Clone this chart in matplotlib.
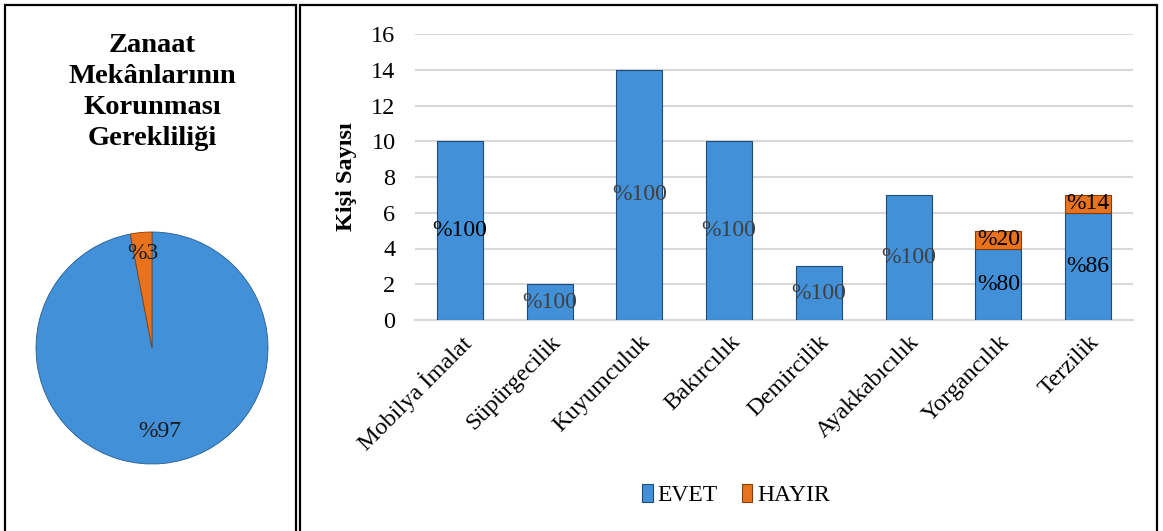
import numpy as np
import matplotlib
matplotlib.use("Agg")
import matplotlib.pyplot as plt
from matplotlib.patches import Rectangle

# --- veriler ---
meslekler = ["Mobilya İmalat", "Süpürgecilik", "Kuyumculuk", "Bakırcılık",
             "Demircilik", "Ayakkabıcılık", "Yorgancılık", "Terzilik"]
evet = [10, 2, 14, 10, 3, 7, 4, 6]
hayir = [0, 0, 0, 0, 0, 0, 1, 1]
evet_yuzde = [100, 100, 100, 100, 100, 100, 80, 86]
hayir_yuzde = [None, None, None, None, None, None, 20, 14]

pasta_etiket = ["EVET", "HAYIR"]
pasta_deger = [97, 3]
pasta_mesafe = [0.72, 0.82]

baslik = "Zanaat\nMekânlarının\nKorunması\nGerekliliği"

MAVI = "#4190d8"
MAVI_KENAR = "#1f4a78"
TURUNCU = "#e8731c"
TURUNCU_KENAR = "#8a3c06"

plt.rcParams["font.family"] = ["Liberation Serif", "DejaVu Serif"]

fig = plt.figure(figsize=(11.63, 5.31), dpi=100)
W, H = 1163, 531

# cerceveler
for x0, x1 in [(5, 296), (300, 1157)]:
    fig.patches.append(Rectangle((x0 / W, -0.01), (x1 - x0) / W, 1 - 5 / H + 0.01,
                                 transform=fig.transFigure, fill=False,
                                 edgecolor="black", linewidth=1.6))

# --- pasta grafik ---
fig.text(152 / W, 1 - 92 / H, baslik, ha="center", va="center",
         fontsize=20.5, fontweight="bold", linespacing=1.3)

axp = fig.add_axes([36 / W, 1 - 464 / H, 232 / W, 232 / H])
wedges, _ = axp.pie(pasta_deger, colors=[MAVI, TURUNCU], startangle=90,
                    counterclock=False,
                    wedgeprops=dict(edgecolor="#2a5d8f", linewidth=0.6))
wedges[1].set_edgecolor(TURUNCU_KENAR)
for w, v, d in zip(wedges, pasta_deger, pasta_mesafe):
    ang = np.deg2rad((w.theta1 + w.theta2) / 2)
    axp.text(d * np.cos(ang), d * np.sin(ang), f"%{v}", ha="center", va="center",
             fontsize=17, color="#1a1a1a")
axp.set_xlim(-1, 1)
axp.set_ylim(-1, 1)
axp.set_aspect("equal")

# --- cubuk grafik ---
ax = fig.add_axes([415 / W, 1 - 320 / H, (1133 - 415) / W, (320 - 34) / H])
x = np.arange(len(meslekler))
b1 = ax.bar(x, evet, width=0.51, color=MAVI, edgecolor=MAVI_KENAR, linewidth=0.8,
            label="EVET", zorder=3)
var = np.array(hayir) > 0
b2 = ax.bar(x[var], np.array(hayir)[var], width=0.51, bottom=np.array(evet)[var],
            color=TURUNCU, edgecolor=TURUNCU_KENAR, linewidth=0.8, label="HAYIR", zorder=3)

for i in range(len(meslekler)):
    renk = "#404040" if evet_yuzde[i] == 100 and i != 0 else "black"
    ax.text(x[i], evet[i] / 2, f"%{evet_yuzde[i]}", ha="center", va="center",
            fontsize=17, color=renk, zorder=4)
    if hayir_yuzde[i] is not None:
        ax.text(x[i], evet[i] + hayir[i] / 2, f"%{hayir_yuzde[i]}", ha="center",
                va="center", fontsize=17, color="black", zorder=4)

ax.set_ylim(0, 16)
ax.set_yticks(range(0, 17, 2))
ax.set_xlim(-0.5, len(meslekler) - 0.5)
ax.grid(axis="y", color="#d9d9d9", linewidth=1.5, zorder=0)
for s in ["top", "right", "left"]:
    ax.spines[s].set_visible(False)
ax.spines["bottom"].set_color("#d9d9d9")
ax.spines["bottom"].set_linewidth(1.5)
ax.tick_params(axis="y", length=0, labelsize=17.5, pad=14)
ax.tick_params(axis="x", length=0, labelsize=17.5, pad=8)
ax.set_xticks(x)
ax.set_xticklabels(meslekler, rotation=45, ha="right", rotation_mode="anchor")
ax.set_ylabel("Kişi Sayısı", fontsize=17.5, fontweight="bold", labelpad=10)

fig.legend(handles=[b1, b2], labels=["EVET", "HAYIR"], loc="center",
           bbox_to_anchor=(736 / W, 1 - 495 / H), ncol=2, frameon=False,
           fontsize=17, handlelength=0.45, handleheight=0.8, handletextpad=0.2,
           columnspacing=1.0)

fig.savefig("out.png", dpi=100)
